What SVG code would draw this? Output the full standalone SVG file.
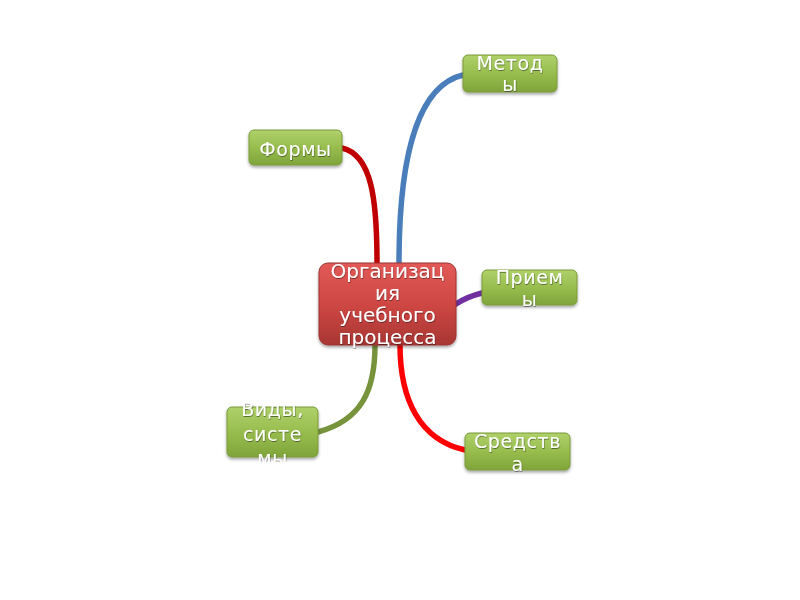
<svg xmlns="http://www.w3.org/2000/svg" width="800" height="600" viewBox="0 0 800 600">
<defs>
<linearGradient id="gG" x1="0" y1="0" x2="0" y2="1">
<stop offset="0" stop-color="#aed16a"/>
<stop offset="0.5" stop-color="#98bd4e"/>
<stop offset="1" stop-color="#7fa43a"/>
</linearGradient>
<linearGradient id="gR" x1="0" y1="0" x2="0" y2="1">
<stop offset="0" stop-color="#e25a57"/>
<stop offset="0.5" stop-color="#cf4744"/>
<stop offset="1" stop-color="#a83633"/>
</linearGradient>
<filter id="sh" x="-20%" y="-20%" width="140%" height="150%">
<feDropShadow dx="0" dy="2" stdDeviation="1.5" flood-color="#000" flood-opacity="0.35"/>
</filter>
<filter id="ts" x="-10%" y="-10%" width="120%" height="130%">
<feDropShadow dx="0.5" dy="1" stdDeviation="0.6" flood-color="#000" flood-opacity="0.45"/>
</filter>
<clipPath id="cV"><rect x="220" y="403" width="105" height="59"/></clipPath>
</defs>
<style>
.g{fill:url(#gG);stroke:#7a9a3a;stroke-width:1;filter:url(#sh)}
.r{fill:url(#gR);stroke:#9c3432;stroke-width:1;filter:url(#sh)}
.t{font-family:"DejaVu Sans",sans-serif;fill:#fff;text-anchor:middle;filter:url(#ts)}
.s{font-size:19px;letter-spacing:0.6px}
.c{fill:none;stroke-width:5.5;stroke-linecap:round}
</style>
<rect width="800" height="600" fill="#fff"/>
<g id="connectors">
<path class="c" stroke="#c00000" d="M342,148 C372,155 377,200 377,263"/>
<path class="c" stroke="#4a7ebb" d="M463,75 C420,85 399,150 399,263"/>
<path class="c" stroke="#7030a0" d="M482,293 C470,296 462,300 456,304"/>
<path class="c" stroke="#77933c" d="M318,432 C362,420 375,390 375,345"/>
<path class="c" stroke="#ff0000" d="M465,450 C420,440 400,400 400,345"/>
</g>
<g id="center">
<rect class="r" x="319" y="263" width="137" height="82" rx="9"/>
<text class="t" font-size="20"><tspan x="387.5" y="278">Организац</tspan><tspan x="387.5" y="300">ия</tspan><tspan x="387.5" y="322">учебного</tspan><tspan x="387.5" y="344">процесса</tspan></text>
</g>
<g id="metody">
<rect class="g" x="463" y="55" width="94" height="37" rx="5"/>
<text class="t s"><tspan x="510" y="70">Метод</tspan><tspan x="510" y="91">ы</tspan></text>
</g>
<g id="formy">
<rect class="g" x="249" y="130" width="93" height="35" rx="5"/>
<text class="t s"><tspan x="295.5" y="156">Формы</tspan></text>
</g>
<g id="priemy">
<rect class="g" x="482" y="270" width="95" height="35" rx="5"/>
<text class="t s"><tspan x="529.5" y="284">Прием</tspan><tspan x="529.5" y="306">ы</tspan></text>
</g>
<g id="vidy">
<rect class="g" x="227" y="407" width="91" height="50" rx="5"/>
<g clip-path="url(#cV)">
<text class="t s"><tspan x="272.5" y="416">Виды,</tspan><tspan x="272.5" y="441">систе</tspan><tspan x="272.5" y="465">мы</tspan></text>
</g>
</g>
<g id="sredstva">
<rect class="g" x="465" y="433" width="105" height="37" rx="5"/>
<text class="t s"><tspan x="517.5" y="448">Средств</tspan><tspan x="517.5" y="471">а</tspan></text>
</g>
</svg>
